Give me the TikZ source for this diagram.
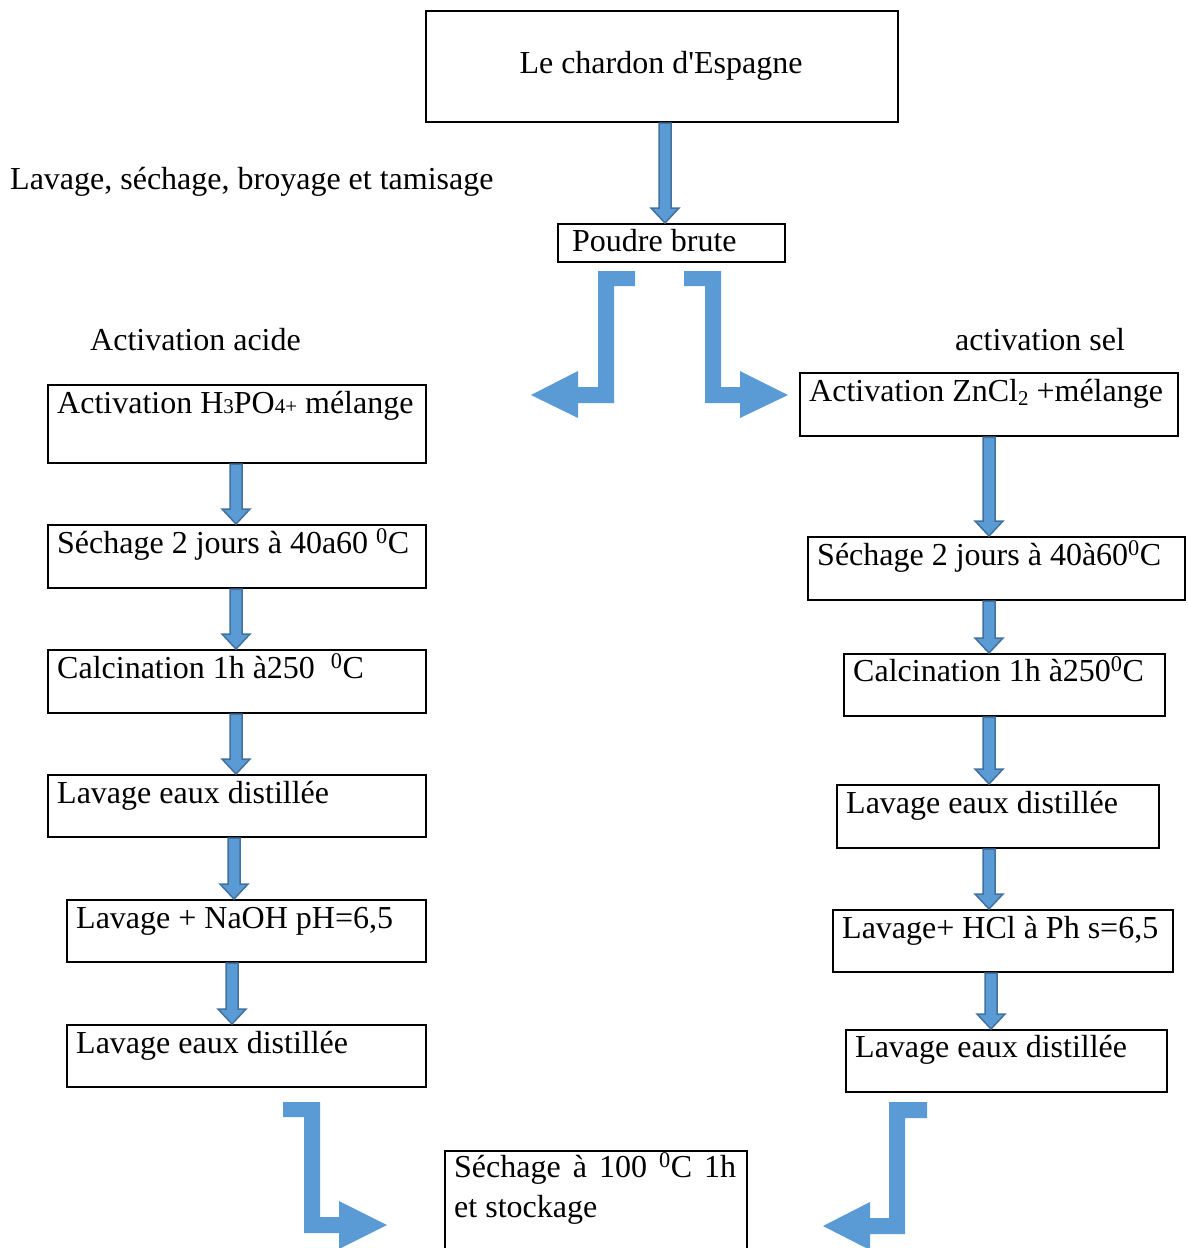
\documentclass[tikz,border=0pt]{standalone}
\usepackage{fontspec}
\setmainfont{Liberation Serif}[Ligatures=TeXOff]
\usetikzlibrary{calc}
\definecolor{afill}{HTML}{5B9BD5}
\definecolor{aline}{HTML}{41719C}
\tikzset{
  box/.style={draw=black, line width=2pt, fill=none, inner sep=0pt, anchor=north west},
  txt/.style={inner sep=0pt, anchor=base west, font=\fontsize{32}{38}\selectfont},
  bent/.style={fill=afill, draw=none}
}
\newcommand\sm[1]{{\fontsize{21}{21}\selectfont #1}}
\newcommand\lowsm[1]{\raisebox{-4pt}{\fontsize{21}{21}\selectfont #1}}
\newcommand\degz{\textsuperscript{0}}
\newcommand\dnarr[3]{\path let \p1=(#1,0 |- #2.south), \p2=(#1,0 |- #3.north) in
  [fill=afill, draw=aline, line width=1.5pt] (\x1-6,\y1) -- (\x1+6,\y1) -- (\x1+6,\y2+15) -- (\x1+14,\y2+15) -- (\x1,\y2) -- (\x1-14,\y2+15) -- (\x1-6,\y2+15) -- cycle;}
\begin{document}
\begin{tikzpicture}[x=1pt,y=-1pt]
\useasboundingbox[fill=white] (0,0) rectangle (1187,1248);
\clip (0,0) rectangle (1187,1248);
% top
\node[box, minimum width=472pt, minimum height=111pt] (top) at (425,10) {};
\node[inner sep=0pt, font=\fontsize{32}{38}\selectfont] (topt) at (661,66) {Le chardon d'Espagne};
\node[box, minimum width=227pt, minimum height=38pt] (pb) at (557,223) {};
\node[txt] (pbt) at (572,251) {Poudre brute};
\node[txt] (lav) at (10,189) {Lavage, séchage, broyage et tamisage};
\node[txt] (acid) at (90,350) {Activation acide};
\node[txt] (sel) at (955,350) {activation sel};
% left column
\node[box, minimum width=378pt, minimum height=78pt] (a1) at (47,384) {};
\node[box, minimum width=378pt, minimum height=63pt] (a2) at (47,524) {};
\node[box, minimum width=378pt, minimum height=63pt] (a3) at (47,649) {};
\node[box, minimum width=378pt, minimum height=62pt] (a4) at (47,774) {};
\node[box, minimum width=359pt, minimum height=62pt] (a5) at (66,899) {};
\node[box, minimum width=359pt, minimum height=62pt] (a6) at (66,1024) {};
\node[txt] (a1t) at (57,413) {Activation H\sm{3}PO\sm{4+} mélange};
\node[txt] (a2t) at (57,553) {Séchage 2 jours à 40a60 \degz C};
\node[txt] (a3t) at (57,678) {Calcination 1h à250 \ \degz C};
\node[txt] (a4t) at (57,803) {Lavage eaux distillée};
\node[txt] (a5t) at (76,928) {Lavage + NaOH pH=6,5};
\node[txt] (a6t) at (76,1053) {Lavage eaux distillée};
% right column
\node[box, minimum width=378pt, minimum height=63pt] (b1) at (799,372) {};
\node[box, minimum width=377pt, minimum height=63pt] (b2) at (807,536) {};
\node[box, minimum width=321pt, minimum height=62pt] (b3) at (843,653) {};
\node[box, minimum width=322pt, minimum height=63pt] (b4) at (836,784) {};
\node[box, minimum width=340pt, minimum height=62pt] (b5) at (832,909) {};
\node[box, minimum width=321pt, minimum height=62pt] (b6) at (845,1029) {};
\node[txt] (b1t) at (809,401) {Activation ZnCl\lowsm{2} +mélange};
\node[txt] (b2t) at (817,565) {Séchage 2 jours à 40à60\degz C};
\node[txt] (b3t) at (853,681) {Calcination 1h à250\degz C};
\node[txt] (b4t) at (846,813) {Lavage eaux distillée};
\node[txt] (b5t) at (842,938) {Lavage+ HCl à Ph s=6,5};
\node[txt] (b6t) at (855,1057) {Lavage eaux distillée};
% final
\node[box, minimum width=302pt, minimum height=120pt] (fin) at (444,1150) {};
\node[txt] (fint1) at (454,1177) {\makebox[282pt][s]{Séchage à 100 \degz C 1h}};
\node[txt] (fint2) at (454,1217) {et stockage};
% down arrows
\dnarr{665}{top}{pb}
\dnarr{236}{a1}{a2}
\dnarr{236}{a2}{a3}
\dnarr{236}{a3}{a4}
\dnarr{234}{a4}{a5}
\dnarr{232}{a5}{a6}
\dnarr{989}{b1}{b2}
\dnarr{989}{b2}{b3}
\dnarr{989}{b3}{b4}
\dnarr{989}{b4}{b5}
\dnarr{991}{b5}{b6}
% bent arrows
\path[bent] (635,271) -- (598,271) -- (598,387) -- (578,387) -- (578,371) -- (531,395) -- (578,418) -- (578,403) -- (614,403) -- (614,286) -- (635,286) -- cycle;
\path[bent] (684,271) -- (721,271) -- (721,387) -- (740,387) -- (740,371) -- (788,395) -- (740,418) -- (740,403) -- (705,403) -- (705,286) -- (684,286) -- cycle;
\path[bent] (283,1102) -- (320,1102) -- (320,1217) -- (339,1217) -- (339,1201) -- (387,1225) -- (339,1249) -- (339,1233) -- (304,1233) -- (304,1117) -- (283,1117) -- cycle;
\path[bent] (927,1102) -- (889,1102) -- (889,1218) -- (870,1218) -- (870,1202) -- (823,1226) -- (870,1250) -- (870,1234) -- (905,1234) -- (905,1118) -- (927,1118) -- cycle;
\end{tikzpicture}
\end{document}
